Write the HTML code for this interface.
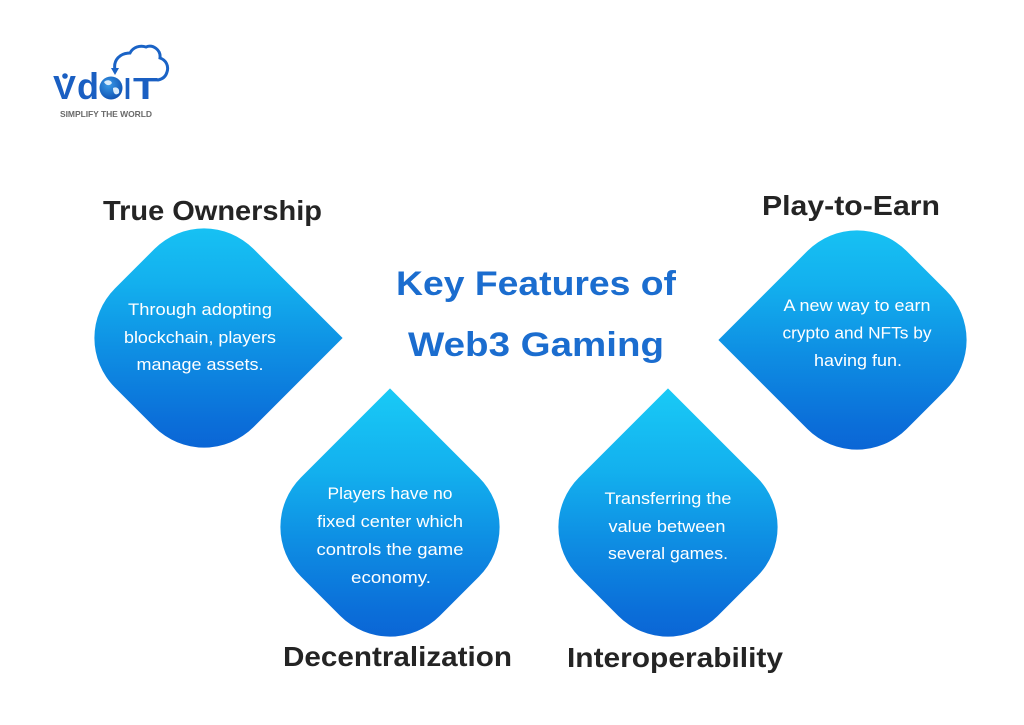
<!DOCTYPE html>
<html>
<head>
<meta charset="utf-8">
<style>
  html, body { margin: 0; padding: 0; }
  body { width: 1024px; height: 725px; background: #ffffff; position: relative; overflow: hidden; }
  .shape {
    position: absolute;
    width: 196px; height: 196px;
    transform: rotate(45deg);
    transform-origin: 50% 50%;
    background: linear-gradient(135deg, #19caf6 0%, #13b0ee 30%, #0e8ee3 55%, #0b6fd9 80%, #0a5cd2 100%);
  }
  svg { position: absolute; left: 0; top: 0; }
  .h { font-family: "Liberation Sans", sans-serif; font-weight: bold; fill: #242424; font-size: 28px; }
  .t { font-family: "Liberation Sans", sans-serif; font-weight: bold; fill: #1b6dcf; font-size: 34px; }
  .b { font-family: "Liberation Sans", sans-serif; fill: #ffffff; font-size: 16.5px; }
</style>
</head>
<body>
  <div class="shape" style="left:106px; top:240px; border-radius:70px 0 70px 70px;"></div>
  <div class="shape" style="left:759px; top:242px; border-radius:70px 70px 70px 0;"></div>
  <div class="shape" style="left:292px; top:429px; border-radius:0 70px 70px 70px;"></div>
  <div class="shape" style="left:570px; top:429px; border-radius:0 70px 70px 70px;"></div>

  <svg width="1024" height="725" viewBox="0 0 1024 725" xmlns="http://www.w3.org/2000/svg">
    <defs>
      <radialGradient id="globe" cx="0.4" cy="0.35" r="0.7">
        <stop offset="0" stop-color="#3a9be8"/>
        <stop offset="1" stop-color="#0d4fb0"/>
      </radialGradient>
    </defs>

    <!-- Logo -->
    <path d="M115,70 C113,60 120,53 130,53 C133,47 140,45 146,47 C153,44 161,50 160,58 C166,60 169,66 167,72 C166,76 163,79 158,80" fill="none" stroke="#1a63c6" stroke-width="3" stroke-linecap="round"/>
    <polygon points="111,68 119,68 115,75" fill="#1a63c6"/>
    <text x="53" y="99" font-family="Liberation Sans, sans-serif" font-weight="bold" font-size="33" fill="#1a5fc2" textLength="23" lengthAdjust="spacingAndGlyphs">V</text>
    <circle cx="65" cy="76" r="2.8" fill="#1a5fc2"/>
    <text x="77" y="99" font-family="Liberation Sans, sans-serif" font-weight="bold" font-size="37" fill="#1a5fc2" textLength="22" lengthAdjust="spacingAndGlyphs">d</text>
    <circle cx="111" cy="88" r="11.5" fill="url(#globe)"/>
    <path d="M104,82 C107,79 111,80 112,83 C110,86 106,86 104,82 Z" fill="#d9ecfb"/>
    <path d="M113,88 C117,86 120,89 119,93 C116,96 113,94 113,88 Z" fill="#d9ecfb"/>
    <text x="124" y="99" font-family="Liberation Sans, sans-serif" font-weight="bold" font-size="31" fill="#1a5fc2" textLength="7" lengthAdjust="spacingAndGlyphs">I</text>
    <text x="133" y="99" font-family="Liberation Sans, sans-serif" font-weight="bold" font-size="31" fill="#1a5fc2" textLength="25" lengthAdjust="spacingAndGlyphs">T</text>
    <text x="106" y="117" text-anchor="middle" font-family="Liberation Sans, sans-serif" font-weight="bold" font-size="8.5" fill="#6a6a6a" textLength="92" lengthAdjust="spacing">SIMPLIFY THE WORLD</text>

    <!-- Title -->
    <text class="t" x="536" y="295" text-anchor="middle" textLength="280" lengthAdjust="spacingAndGlyphs">Key Features of</text>
    <text class="t" x="536" y="356" text-anchor="middle" textLength="256" lengthAdjust="spacingAndGlyphs">Web3 Gaming</text>

    <!-- Headings -->
    <text class="h" x="212.5" y="220" text-anchor="middle" textLength="219" lengthAdjust="spacingAndGlyphs">True Ownership</text>
    <text class="h" x="851" y="215" text-anchor="middle" textLength="178" lengthAdjust="spacingAndGlyphs">Play-to-Earn</text>
    <text class="h" x="397.5" y="666" text-anchor="middle" textLength="229" lengthAdjust="spacingAndGlyphs">Decentralization</text>
    <text class="h" x="675" y="667" text-anchor="middle" textLength="216" lengthAdjust="spacingAndGlyphs">Interoperability</text>

    <!-- Body: True Ownership -->
    <text class="b" x="200" y="315" text-anchor="middle" textLength="144" lengthAdjust="spacingAndGlyphs">Through adopting</text>
    <text class="b" x="200" y="343" text-anchor="middle" textLength="152" lengthAdjust="spacingAndGlyphs">blockchain, players</text>
    <text class="b" x="200" y="370" text-anchor="middle" textLength="127" lengthAdjust="spacingAndGlyphs">manage assets.</text>

    <!-- Body: Play-to-Earn -->
    <text class="b" x="857" y="311" text-anchor="middle" textLength="147" lengthAdjust="spacingAndGlyphs">A new way to earn</text>
    <text class="b" x="857" y="338.5" text-anchor="middle" textLength="149" lengthAdjust="spacingAndGlyphs">crypto and NFTs by</text>
    <text class="b" x="858" y="366" text-anchor="middle" textLength="88" lengthAdjust="spacingAndGlyphs">having fun.</text>

    <!-- Body: Decentralization -->
    <text class="b" x="390" y="499" text-anchor="middle" textLength="125" lengthAdjust="spacingAndGlyphs">Players have no</text>
    <text class="b" x="390" y="527" text-anchor="middle" textLength="146" lengthAdjust="spacingAndGlyphs">fixed center which</text>
    <text class="b" x="390" y="555" text-anchor="middle" textLength="147" lengthAdjust="spacingAndGlyphs">controls the game</text>
    <text class="b" x="391" y="583" text-anchor="middle" textLength="80" lengthAdjust="spacingAndGlyphs">economy.</text>

    <!-- Body: Interoperability -->
    <text class="b" x="668" y="504" text-anchor="middle" textLength="127" lengthAdjust="spacingAndGlyphs">Transferring the</text>
    <text class="b" x="667" y="532" text-anchor="middle" textLength="117" lengthAdjust="spacingAndGlyphs">value between</text>
    <text class="b" x="668" y="559" text-anchor="middle" textLength="120" lengthAdjust="spacingAndGlyphs">several games.</text>
  </svg>
</body>
</html>
